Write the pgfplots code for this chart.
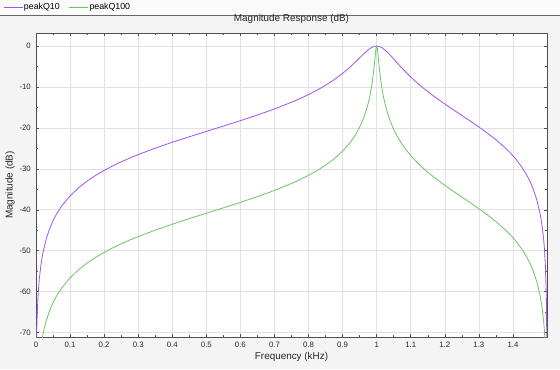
\documentclass[border=0pt]{standalone}
\usepackage{fontspec}
\setmainfont{Liberation Sans}
\usepackage{pgfplots}
\pgfplotsset{compat=1.18}
\definecolor{figbg}{RGB}{244,244,244}
\definecolor{legbg}{RGB}{250,250,250}
\definecolor{cpurple}{RGB}{162,82,238}
\definecolor{cgreen}{RGB}{108,196,98}
\definecolor{gridc}{RGB}{226,226,226}
\definecolor{axc}{RGB}{80,80,80}
\begin{document}
\begin{tikzpicture}[x=1bp,y=1bp]
\useasboundingbox (0,0) rectangle (560,369);
\fill[figbg] (0,0) rectangle (560,369);
\fill[legbg] (0,354) rectangle (560,369);
\draw[black!60,line width=0.7bp] (0,354) -- (560,354);
\begin{axis}[
  at={(36bp,32bp)}, anchor=south west,
  scale only axis, width=511bp, height=304bp,
  xmin=0, xmax=1.5, ymin=-71.1, ymax=3.2,
  axis background/.style={fill=white},
  axis line style={axc, line width=0.6bp},
  tick style={axc, line width=0.5bp},
  tick align=inside,
  major tick length=3bp, minor tick length=1.8bp,
  xtick={0,0.1,0.2,0.3,0.4,0.5,0.6,0.7,0.8,0.9,1,1.1,1.2,1.3,1.4},
  xticklabels={0,0.1,0.2,0.3,0.4,0.5,0.6,0.7,0.8,0.9,1,1.1,1.2,1.3,1.4},
  ytick={-70,-60,-50,-40,-30,-20,-10,0},
  yticklabels={-70,-60,-50,-40,-30,-20,-10,0},
  minor x tick num=1, minor y tick num=1,
  grid=major, major grid style={gridc, line width=0.6bp},
  ticklabel style={font=\fontsize{7.8bp}{9bp}\selectfont, text=black!85},
  xticklabel style={anchor=north, inner sep=0pt, yshift=-5.2bp},
  yticklabel style={anchor=east, inner sep=0pt, xshift=-5bp},
  title={Magnitude Response (dB)},
  title style={at={(axis description cs:0.5,1.0263)}, anchor=center, inner sep=0pt, font=\fontsize{9.9bp}{11bp}\selectfont, text=black!85},
  xlabel={Frequency (kHz)},
  xlabel style={at={(axis description cs:0.5,-0.0658)}, anchor=center, inner sep=0pt, font=\fontsize{9.9bp}{11bp}\selectfont, text=black!85},
  ylabel={Magnitude (dB)},
  ylabel style={at={(axis description cs:-0.0509,0.5)}, anchor=center, rotate=0, inner sep=0pt, font=\fontsize{9.9bp}{11bp}\selectfont, text=black!85},
  legend columns=2,
  legend style={at={(axis description cs:-0.0646,1.0855)}, anchor=west, draw=none, fill=none,
    font=\fontsize{8.8bp}{10bp}\selectfont, inner sep=0pt,
    nodes={inner sep=1bp},
    /tikz/every even column/.append style={column sep=8bp}},
  legend cell align=left,
  legend image code/.code={\draw[#1] (0bp,0bp) -- (19bp,0bp);},
]
\addplot[cpurple, line width=0.8bp] coordinates {
(0.0005,-82.69) (0.001,-76.67) (0.0015,-73.15) (0.002,-70.65) (0.0025,-68.71) (0.003,-67.13)
(0.004,-64.63) (0.005,-62.69) (0.007,-59.77) (0.01,-56.67) (0.015,-53.15) (0.02,-50.65)
(0.03,-47.12) (0.04,-44.62) (0.05,-42.67) (0.06,-41.08) (0.075,-39.13) (0.1,-36.61)
(0.125,-34.63) (0.15,-33.00) (0.175,-31.61) (0.2,-30.39) (0.225,-29.29) (0.25,-28.30)
(0.275,-27.38) (0.3,-26.52) (0.35,-24.95)
(0.4,-23.50) (0.45,-22.17) (0.5,-20.85) (0.55,-19.55) (0.6,-18.23) (0.65,-16.85)
(0.7,-15.37) (0.75,-13.73) (0.775,-12.83) (0.8,-11.85) (0.825,-10.78) (0.85,-9.57)
(0.875,-8.22) (0.9,-6.68) (0.92,-5.27) (0.93,-4.51) (0.94,-3.71) (0.95,-2.89)
(0.96,-2.07) (0.97,-1.29) (0.975,-0.94) (0.98,-0.63) (0.985,-0.37) (0.99,-0.17)
(0.995,-0.04) (1.0,0) (1.005,-0.05) (1.01,-0.17) (1.015,-0.38) (1.02,-0.66)
(1.025,-0.99) (1.03,-1.37) (1.04,-2.23) (1.05,-3.15) (1.06,-4.08) (1.07,-5.00)
(1.08,-5.89) (1.09,-6.71) (1.1,-7.55) (1.11,-8.33) (1.125,-9.43) (1.135,-10.15)
(1.15,-11.12) (1.16,-11.77) (1.175,-12.68) (1.19,-13.58)
(1.2,-14.15) (1.225,-15.56) (1.25,-16.95) (1.275,-18.34) (1.3,-19.76) (1.325,-21.26)
(1.35,-22.88) (1.375,-24.69) (1.39,-25.91) (1.4,-26.81) (1.41,-27.78) (1.425,-29.44)
(1.44,-31.45) (1.45,-33.07) (1.46,-35.03) (1.47,-37.56) (1.48,-41.09) (1.485,-43.60) (1.49,-47.12)
(1.492,-49.06) (1.495,-53.15) (1.498,-61.11) (1.4995,-73.15) (1.4998,-81.1)
};
\addlegendentry{peakQ10}
\addplot[cgreen, line width=0.8bp] coordinates {
(0.01,-76.70) (0.015,-73.18) (0.018,-71.59) (0.02,-70.68) (0.025,-68.74) (0.03,-67.15)
(0.04,-64.65) (0.05,-62.71) (0.06,-61.11) (0.075,-59.16) (0.1,-56.64) (0.125,-54.66)
(0.15,-53.03) (0.175,-51.64) (0.2,-50.42) (0.225,-49.33) (0.25,-48.33) (0.275,-47.41)
(0.3,-46.55) (0.35,-44.98) (0.4,-43.54)
(0.45,-42.17) (0.5,-40.85) (0.55,-39.53) (0.6,-38.20) (0.65,-36.79) (0.7,-35.28)
(0.75,-33.58) (0.775,-32.63) (0.8,-31.60) (0.825,-30.43) (0.85,-29.10) (0.875,-27.56)
(0.9,-25.67) (0.92,-23.79) (0.93,-22.66) (0.94,-21.36) (0.95,-19.82) (0.96,-17.95)
(0.97,-15.54) (0.975,-14.03) (0.98,-12.21) (0.985,-9.93) (0.988,-8.25) (0.99,-6.95)
(0.992,-5.49) (0.993,-4.68) (0.994,-3.86) (0.995,-3.00) (0.996,-2.14) (0.997,-1.34)
(0.998,-0.64) (0.999,-0.17) (1.0,0) (1.001,-0.17) (1.002,-0.65) (1.003,-1.34)
(1.004,-2.16) (1.005,-3.02) (1.006,-3.89) (1.007,-4.74) (1.008,-5.55) (1.01,-7.03)
(1.012,-8.36) (1.015,-10.08) (1.02,-12.41) (1.025,-14.29) (1.03,-15.85) (1.04,-18.37)
(1.05,-20.35) (1.06,-21.99) (1.07,-23.40) (1.08,-24.64) (1.09,-25.71) (1.1,-26.75)
(1.11,-27.67) (1.125,-28.94) (1.135,-29.74) (1.15,-30.81) (1.16,-31.50) (1.175,-32.48)
(1.19,-33.41) (1.2,-34.02) (1.225,-35.47) (1.25,-36.89) (1.275,-38.30) (1.3,-39.74)
(1.325,-41.26) (1.35,-42.89) (1.375,-44.71) (1.39,-45.94) (1.4,-46.83) (1.41,-47.81)
(1.425,-49.48) (1.44,-51.48) (1.45,-53.10) (1.46,-55.07) (1.47,-57.59)
(1.48,-61.12) (1.485,-63.63) (1.49,-67.16) (1.492,-69.09) (1.495,-73.18) (1.498,-81.1)
};
\addlegendentry{peakQ100}
\end{axis}
\end{tikzpicture}
\end{document}
